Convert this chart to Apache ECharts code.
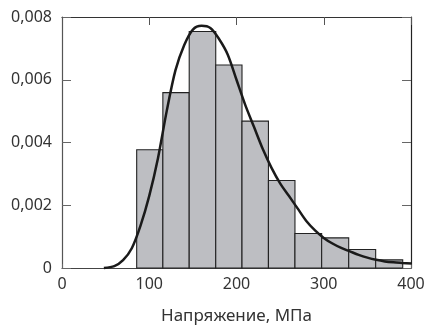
<!DOCTYPE html>
<html>
<head>
<meta charset="utf-8">
<script src="https://cdn.jsdelivr.net/npm/echarts@6/dist/echarts.min.js"></script>
<style>
  html, body { margin: 0; padding: 0; background: #fff; }
  #chart { width: 430px; height: 330px; }
</style>
</head>
<body>
<div id="chart"></div>
<script>
// Histogram bin edges (MPa) and relative frequency density per bin
const binEdges = [85.6, 115.6, 145.8, 176.2, 206.3, 236.6, 267.0, 297.6, 328.6, 359.5, 390.5];
const binDensity = [0.00377, 0.00559, 0.00754, 0.00647, 0.00468, 0.00279, 0.00110, 0.00096, 0.00059, 0.00026];

// Fitted density curve: stress (MPa) and density
const curveX = [48, 60, 70, 80, 90, 100, 110, 120, 130, 140, 150, 160, 170, 180, 190, 200, 210, 220, 230, 240, 250, 260, 270, 280, 290, 300, 310, 320, 330, 340, 350, 360, 370, 380, 390, 401];
const curveY = [0, 0.00006, 0.00025, 0.00063, 0.00135, 0.0023, 0.0035, 0.0050, 0.0063, 0.0071, 0.0076, 0.00772, 0.00765, 0.0073, 0.0068, 0.0060, 0.0052, 0.0045, 0.0038, 0.0032, 0.0027, 0.0023, 0.0019, 0.0015, 0.0012, 0.00096, 0.00078, 0.00064, 0.00053, 0.00042, 0.00033, 0.00026, 0.00021, 0.00018, 0.00016, 0.00014];

const xTicks = { min: 0, max: 400, interval: 100 };
const yTicks = { min: 0, max: 0.008, interval: 0.002 };

const binData = binDensity.map((v, i) => [binEdges[i], binEdges[i + 1], v]);
const curveData = curveX.map((x, i) => [x, curveY[i]]);

const font = '"Noto Sans", "DejaVu Sans", sans-serif';
const textColor = '#333';

function fmtY(v) {
  if (v === 0) return '0';
  return v.toFixed(3).replace('.', ',');
}

const chart = echarts.init(document.getElementById('chart'), null, { renderer: 'canvas' });

chart.setOption({
  animation: false,
  backgroundColor: '#fff',
  grid: { left: 62, right: 19, top: 17, bottom: 51 },
  xAxis: [
    {
      type: 'value', position: 'bottom',
      min: xTicks.min, max: xTicks.max, interval: xTicks.interval,
      name: 'Напряжение, МПа', nameLocation: 'middle', nameGap: 40,
      nameTextStyle: { fontFamily: font, fontSize: 17, color: textColor },
      axisLine: { show: true, onZero: false, lineStyle: { color: '#444', width: 1.2 } },
      axisTick: { show: true, inside: true, length: 4, lineStyle: { color: '#666' } },
      axisLabel: { fontFamily: font, fontSize: 16, color: textColor, margin: 8 },
      splitLine: { show: false }
    },
    {
      type: 'value', position: 'top',
      min: xTicks.min, max: xTicks.max, interval: xTicks.interval,
      axisLine: { show: true, onZero: false, lineStyle: { color: '#333', width: 1.2 } },
      axisTick: { show: true, inside: true, length: 8, lineStyle: { color: '#555' } },
      axisLabel: { show: false },
      splitLine: { show: false }
    }
  ],
  yAxis: [
    {
      type: 'value', position: 'left',
      min: yTicks.min, max: yTicks.max, interval: yTicks.interval,
      axisLine: { show: true, onZero: false, lineStyle: { color: '#555', width: 1.2 } },
      axisTick: { show: true, inside: true, length: 9, lineStyle: { color: '#666' } },
      axisLabel: { fontFamily: font, fontSize: 16, color: textColor, margin: 10, formatter: fmtY },
      splitLine: { show: false }
    },
    {
      type: 'value', position: 'right',
      min: yTicks.min, max: yTicks.max, interval: yTicks.interval,
      axisLine: { show: true, onZero: false, lineStyle: { color: '#222', width: 1.2 } },
      axisTick: { show: true, inside: true, length: 9, lineStyle: { color: '#666' } },
      axisLabel: { show: false },
      splitLine: { show: false }
    }
  ],
  series: [
    {
      type: 'custom',
      xAxisIndex: 0, yAxisIndex: 0,
      data: binData,
      encode: { x: [0, 1], y: 2 },
      renderItem: function (params, api) {
        const topLeft = api.coord([api.value(0), api.value(2)]);
        const bottomRight = api.coord([api.value(1), 0]);
        return {
          type: 'rect',
          shape: {
            x: topLeft[0], y: topLeft[1],
            width: bottomRight[0] - topLeft[0],
            height: bottomRight[1] - topLeft[1]
          },
          style: { fill: '#bdbec2', stroke: '#222', lineWidth: 1.1 }
        };
      },
      z: 2
    },
    {
      type: 'line',
      xAxisIndex: 0, yAxisIndex: 0,
      data: curveData,
      smooth: 0.3,
      showSymbol: false,
      symbol: 'none',
      lineStyle: { color: '#1a1a1a', width: 2.5 },
      clip: false,
      z: 3
    }
  ]
});
</script>
</body>
</html>
